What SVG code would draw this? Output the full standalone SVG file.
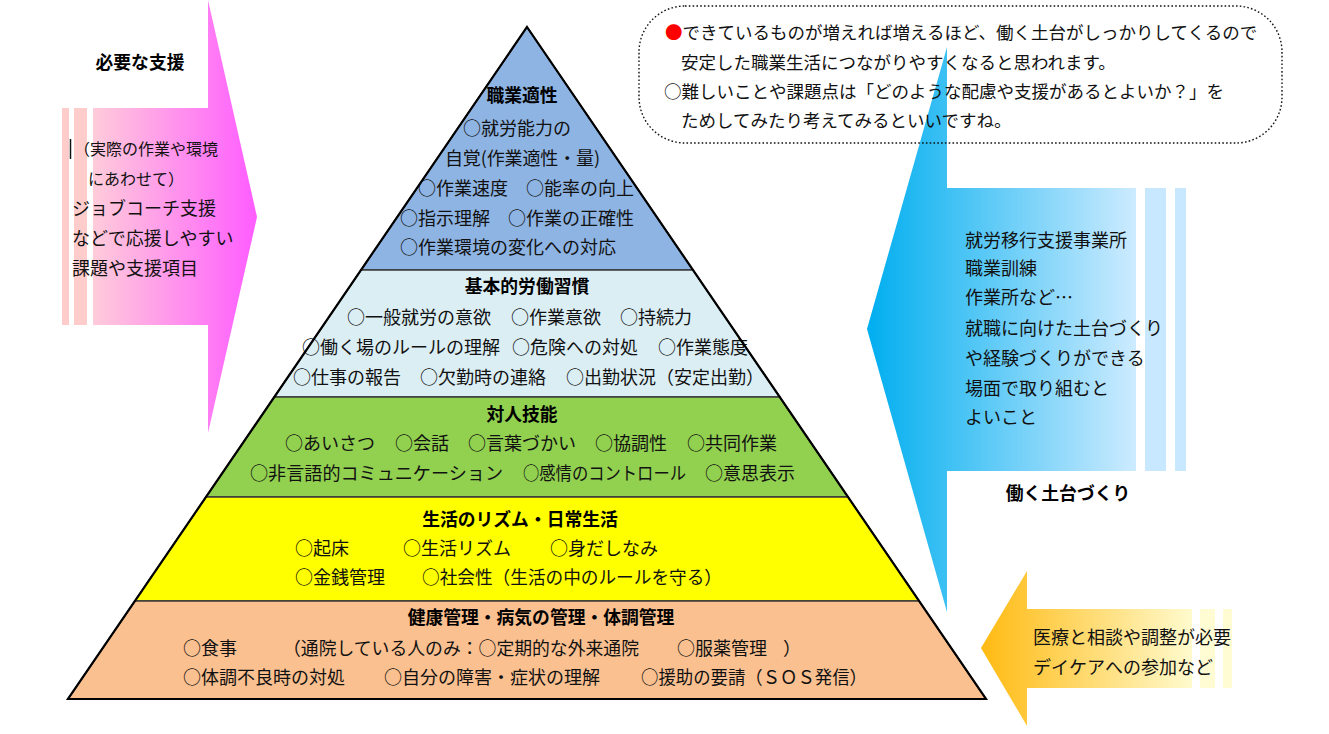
<svg xmlns="http://www.w3.org/2000/svg" width="1329" height="734" viewBox="0 0 1329 734">
<style>
.t{font-family:"Noto Sans CJK JP","Noto Sans CJK SC",sans-serif;font-size:18px;fill:#111}
.b{font-weight:700;font-size:17.8px;fill:#000}
.m{text-anchor:middle}
.s{font-size:16px}
.n{font-size:17.5px}
.lay{stroke:#3a3a3a;stroke-width:1.5}
</style>
<defs>
<linearGradient id="gPink" gradientUnits="userSpaceOnUse" x1="93" y1="0" x2="257" y2="0">
<stop offset="0" stop-color="#FFCCDA"/><stop offset="1" stop-color="#FF5CFF"/>
</linearGradient>
<linearGradient id="gBlue" gradientUnits="userSpaceOnUse" x1="867" y1="0" x2="1136" y2="0">
<stop offset="0" stop-color="#00AEEF"/><stop offset="1" stop-color="#CDEBFF"/>
</linearGradient>
<linearGradient id="gYel" gradientUnits="userSpaceOnUse" x1="981" y1="0" x2="1192" y2="0">
<stop offset="0" stop-color="#FFBA12"/><stop offset="1" stop-color="#FFFACD"/>
</linearGradient>
</defs>
<rect width="1329" height="734" fill="#fff"/>

<g id="support-arrow">
<rect x="62" y="108" width="7" height="217" fill="#FFCCCC"/>
<rect x="74" y="108" width="13" height="217" fill="#FFCCCC"/>
<polygon points="93,108 208,108 208,0 257,217 208,433 208,325 93,325" fill="url(#gPink)"/>
<text class="t b m" x="140" y="69">必要な支援</text>
<line x1="70.5" y1="139" x2="70.5" y2="159" stroke="#111" stroke-width="1.5"/>
<text class="t s" x="74" y="155">（実際の作業や環境</text>
<text class="t s" x="88" y="185">にあわせて）</text>
<text class="t" x="72" y="215">ジョブコーチ支援</text>
<text class="t" x="72" y="245">などで応援しやすい</text>
<text class="t" x="72" y="275">課題や支援項目</text>
</g>

<g id="foundation-arrow">
<rect x="1145" y="188" width="21" height="283" fill="#C8E8FF"/>
<rect x="1175" y="188" width="11" height="283" fill="#C8E8FF"/>
<polygon points="1136,188 947,188 947,47 867,329 947,612 947,471 1136,471" fill="url(#gBlue)"/>
<text class="t" x="965" y="247">就労移行支援事業所</text>
<text class="t" x="965" y="275">職業訓練</text>
<text class="t" x="965" y="304">作業所など…</text>
<text class="t" x="965" y="335">就職に向けた土台づくり</text>
<text class="t" x="965" y="365">や経験づくりができる</text>
<text class="t" x="965" y="395">場面で取り組むと</text>
<text class="t" x="965" y="424">よいこと</text>
<text class="t b m" x="1068" y="500">働く土台づくり</text>
</g>

<g id="medical-arrow">
<rect x="1200" y="609" width="15" height="79" fill="#FFFBD2"/>
<rect x="1223" y="609" width="9" height="79" fill="#FFFBD2"/>
<polygon points="1192,609 1027,609 1027,571 981,648 1027,726 1027,688 1192,688" fill="url(#gYel)"/>
<text class="t" x="1033" y="644">医療と相談や調整が必要</text>
<text class="t" x="1033" y="674">デイケアへの参加など</text>
</g>

<g id="note-bubble">
<rect x="639" y="6" width="643" height="137" rx="46" ry="46" fill="none" stroke="#111" stroke-width="1.4" stroke-dasharray="1.6 2.2"/>
<text class="t n" x="665" y="39"><tspan fill="#FF0000">●</tspan>できているものが増えれば増えるほど、働く土台がしっかりしてくるので</text>
<text class="t n" x="681" y="69">安定した職業生活につながりやすくなると思われます。</text>
<text class="t n" x="664" y="98">○難しいことや課題点は「どのような配慮や支援があるとよいか？」を</text>
<text class="t n" x="681" y="127">ためしてみたり考えてみるといいですね。</text>
</g>

<g id="layer-aptitude">
<polygon class="lay" points="527,27 693,270 361,270" fill="#8EB4E3"/>
<text class="t b m" x="522" y="102">職業適性</text>
<text class="t" x="463" y="135">○就労能力の</text>
<text class="t" x="445" y="165" textLength="155" lengthAdjust="spacing">自覚(作業適性・量)</text>
<text class="t" x="418" y="195">○作業速度　○能率の向上</text>
<text class="t" x="400" y="225">○指示理解　○作業の正確性</text>
<text class="t" x="400" y="254">○作業環境の変化への対応</text>
</g>

<g id="layer-habits">
<polygon class="lay" points="361,270 693,270 779.7,397 274.3,397" fill="#DBEEF4"/>
<text class="t b m" x="527" y="293">基本的労働習慣</text>
<text class="t" x="347" y="324">○一般就労の意欲</text>
<text class="t" x="511" y="324">○作業意欲</text>
<text class="t" x="620" y="324">○持続力</text>
<text class="t" x="302" y="354">○働く場のルールの理解</text>
<text class="t" x="512" y="354">○危険への対処</text>
<text class="t" x="658" y="354">○作業態度</text>
<text class="t" x="293" y="384">○仕事の報告</text>
<text class="t" x="420" y="384">○欠勤時の連絡</text>
<text class="t" x="566" y="384">○出勤状況（安定出勤）</text>
</g>

<g id="layer-interpersonal">
<polygon class="lay" points="274.3,397 779.7,397 848,497 206,497" fill="#92D050"/>
<text class="t b m" x="522" y="421">対人技能</text>
<text class="t" x="285" y="450">○あいさつ</text>
<text class="t" x="395" y="450">○会話</text>
<text class="t" x="468" y="450">○言葉づかい</text>
<text class="t" x="595" y="450">○協調性</text>
<text class="t" x="687" y="450">○共同作業</text>
<text class="t" x="250" y="480" textLength="253" lengthAdjust="spacingAndGlyphs">○非言語的コミュニケーション</text>
<text class="t" x="523" y="480" textLength="163" lengthAdjust="spacingAndGlyphs">○感情のコントロール</text>
<text class="t" x="705" y="480">○意思表示</text>
</g>

<g id="layer-rhythm">
<polygon class="lay" points="206,497 848,497 919.1,601 134.9,601" fill="#FFFF00"/>
<text class="t b m" x="520" y="526">生活のリズム・日常生活</text>
<text class="t" x="295" y="555">○起床</text>
<text class="t" x="403" y="555">○生活リズム</text>
<text class="t" x="550" y="555">○身だしなみ</text>
<text class="t" x="295" y="584">○金銭管理</text>
<text class="t" x="422" y="584" textLength="300" lengthAdjust="spacingAndGlyphs">○社会性（生活の中のルールを守る）</text>
</g>

<g id="layer-health">
<polygon class="lay" points="134.9,601 919.1,601 986,699 68,699" fill="#FAC090"/>
<text class="t b m" x="541" y="624">健康管理・病気の管理・体調管理</text>
<text class="t" x="183" y="655">○食事</text>
<text class="t" x="283" y="655" textLength="356" lengthAdjust="spacingAndGlyphs">（通院している人のみ：○定期的な外来通院</text>
<text class="t" x="677" y="655">○服薬管理</text>
<text class="t" x="783" y="655">）</text>
<text class="t" x="183" y="684">○体調不良時の対処</text>
<text class="t" x="384" y="684">○自分の障害・症状の理解</text>
<text class="t" x="641" y="684" textLength="226" lengthAdjust="spacingAndGlyphs">○援助の要請（ＳＯＳ発信）</text>
</g>

<g id="pyramid-outline">
<polygon points="527,27 986,699 68,699" fill="none" stroke="#000" stroke-width="2.2" stroke-linejoin="miter"/>
</g>
<g id="connectors"></g>
</svg>
